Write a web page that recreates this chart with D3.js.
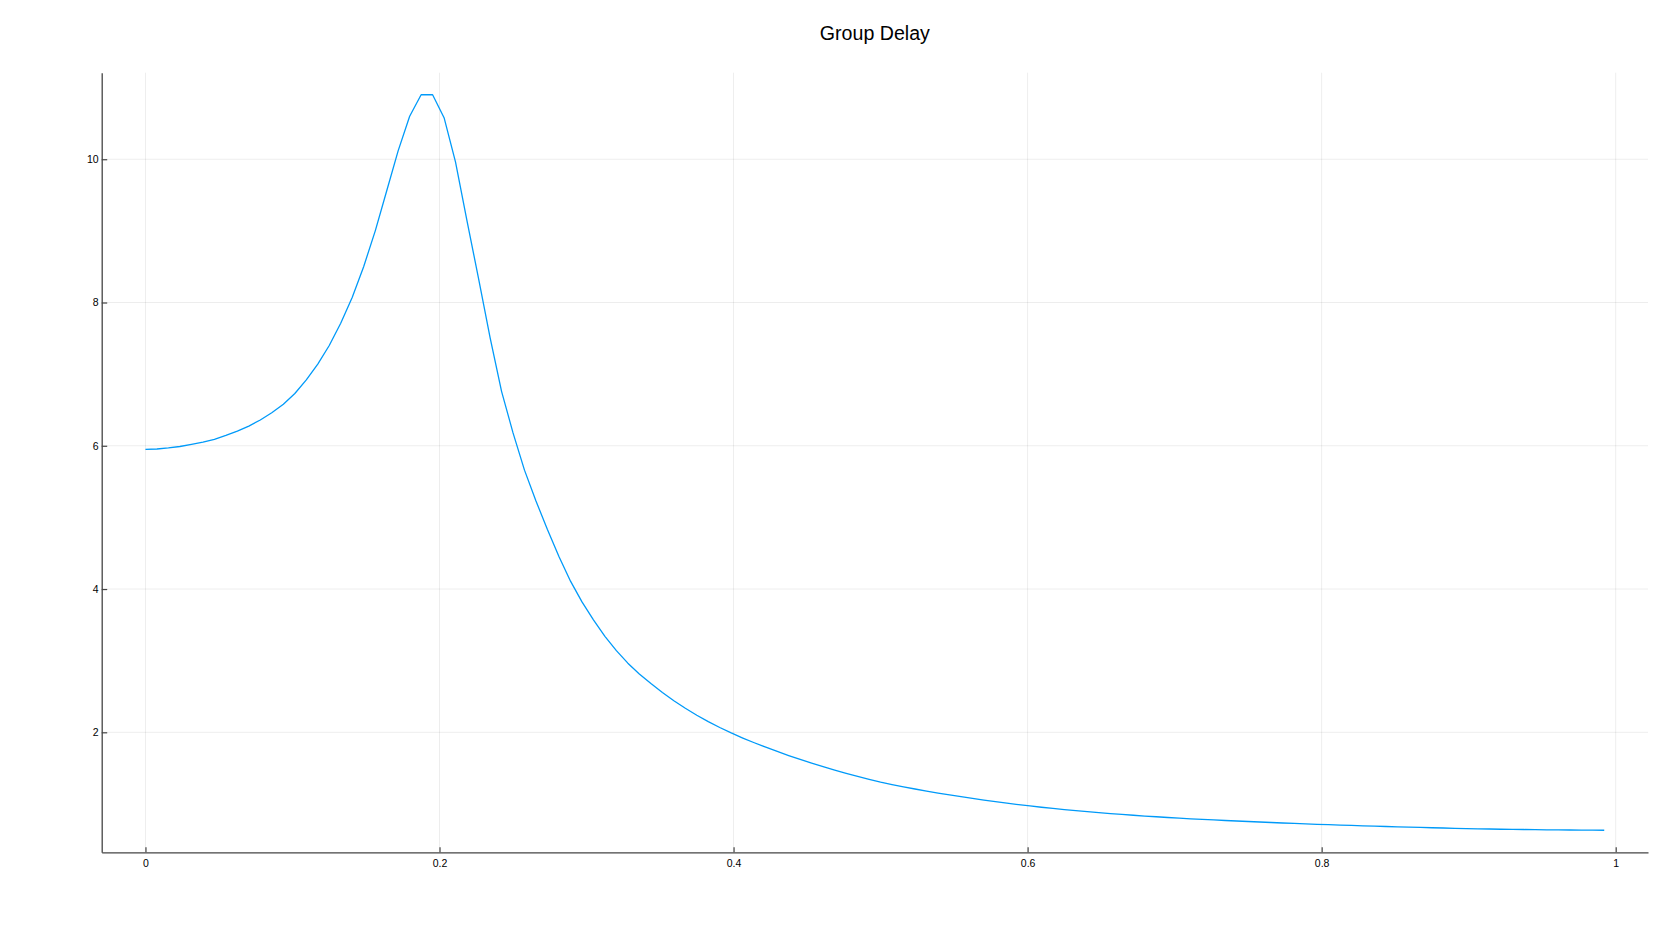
<!DOCTYPE html>
<html>
<head>
<meta charset="utf-8">
<script src="https://cdn.jsdelivr.net/npm/d3@7"></script>
<style>
  body { margin: 0; background: #fff; }
  svg { display: block; font-family: "Liberation Sans", Arial, sans-serif; }
</style>
</head>
<body>
<svg id="chart"></svg>
<script>
const width = 1660;
const height = 941;

// normalized frequency, 128 samples
const freq = [
  0, 0.0078, 0.0156, 0.0234, 0.0313, 0.0391, 0.0469, 0.0547, 0.0625, 0.0703, 0.0781, 0.0859, 0.0938, 0.1016, 0.1094, 0.1172,
  0.125, 0.1328, 0.1406, 0.1484, 0.1563, 0.1641, 0.1719, 0.1797, 0.1875, 0.1953, 0.2031, 0.2109, 0.2188, 0.2266, 0.2344, 0.2422,
  0.25, 0.2578, 0.2656, 0.2734, 0.2813, 0.2891, 0.2969, 0.3047, 0.3125, 0.3203, 0.3281, 0.3359, 0.3438, 0.3516, 0.3594, 0.3672,
  0.375, 0.3828, 0.3906, 0.3984, 0.4063, 0.4141, 0.4219, 0.4297, 0.4375, 0.4453, 0.4531, 0.4609, 0.4688, 0.4766, 0.4844, 0.4922,
  0.5, 0.5078, 0.5156, 0.5234, 0.5313, 0.5391, 0.5469, 0.5547, 0.5625, 0.5703, 0.5781, 0.5859, 0.5938, 0.6016, 0.6094, 0.6172,
  0.625, 0.6328, 0.6406, 0.6484, 0.6563, 0.6641, 0.6719, 0.6797, 0.6875, 0.6953, 0.7031, 0.7109, 0.7188, 0.7266, 0.7344, 0.7422,
  0.75, 0.7578, 0.7656, 0.7734, 0.7813, 0.7891, 0.7969, 0.8047, 0.8125, 0.8203, 0.8281, 0.8359, 0.8438, 0.8516, 0.8594, 0.8672,
  0.875, 0.8828, 0.8906, 0.8984, 0.9063, 0.9141, 0.9219, 0.9297, 0.9375, 0.9453, 0.9531, 0.9609, 0.9688, 0.9766, 0.9844, 0.9922
];

// group delay
const delay = [
  5.95, 5.955, 5.97, 5.99, 6.02, 6.05, 6.09, 6.145, 6.205, 6.275, 6.36, 6.46, 6.58, 6.73, 6.92, 7.14,
  7.40, 7.71, 8.07, 8.50, 9.00, 9.56, 10.12, 10.60, 10.90, 10.90, 10.58, 9.96, 9.13, 8.33, 7.51, 6.76,
  6.18, 5.66, 5.23, 4.83, 4.45, 4.11, 3.82, 3.57, 3.34, 3.14, 2.965, 2.815, 2.68, 2.555, 2.44, 2.335,
  2.238, 2.149, 2.067, 1.991, 1.92, 1.854, 1.792, 1.734, 1.676, 1.621, 1.569, 1.52, 1.473, 1.428, 1.385, 1.344,
  1.305, 1.271, 1.239, 1.2085, 1.1795, 1.152, 1.126, 1.101, 1.077, 1.054, 1.032, 1.011, 0.991, 0.972, 0.954, 0.937,
  0.921, 0.906, 0.892, 0.878, 0.865, 0.853, 0.842, 0.831, 0.821, 0.811, 0.802, 0.793, 0.785, 0.777, 0.769, 0.762,
  0.755, 0.748, 0.741, 0.734, 0.728, 0.722, 0.716, 0.711, 0.705, 0.70, 0.695, 0.69, 0.685, 0.68, 0.676, 0.672,
  0.668, 0.664, 0.66, 0.656, 0.653, 0.65, 0.647, 0.645, 0.643, 0.641, 0.639, 0.637, 0.636, 0.635, 0.634, 0.633
];

const xTicks = [0, 0.2, 0.4, 0.6, 0.8, 1];
const yTicks = [2, 4, 6, 8, 10];
const title = "Group Delay";

const margin = { top: 72.7, right: 12, bottom: 88.7, left: 101.7 };

const svg = d3.select("#chart").attr("width", width).attr("height", height);

// pad the data range by 3% on each side
function padded(ext) {
  const d = (ext[1] - ext[0]) * 0.03;
  return [ext[0] - d, ext[1] + d];
}

const x = d3.scaleLinear()
  .domain(padded(d3.extent(freq)))
  .range([margin.left, width - margin.right]);
const y = d3.scaleLinear()
  .domain(padded(d3.extent(delay)))
  .range([height - margin.bottom, margin.top]);

// grid
const grid = svg.append("g").attr("stroke", "#000").attr("stroke-opacity", 0.07).attr("stroke-width", 1);
grid.selectAll(".vx").data(xTicks).enter().append("line")
  .attr("x1", d => x(d)).attr("x2", d => x(d))
  .attr("y1", margin.top).attr("y2", height - margin.bottom);
grid.selectAll(".hy").data(yTicks).enter().append("line")
  .attr("y1", d => y(d)).attr("y2", d => y(d))
  .attr("x1", margin.left).attr("x2", width - margin.right);

// axes
const fmt = d => d3.format("~g")(d);
const xAxis = svg.append("g")
  .attr("transform", "translate(0," + (height - margin.bottom) + ")")
  .call(d3.axisBottom(x).tickValues(xTicks).tickFormat(fmt).tickSizeInner(-5).tickSizeOuter(0).tickPadding(7.5));
const yAxis = svg.append("g")
  .attr("transform", "translate(" + margin.left + ",0)")
  .call(d3.axisLeft(y).tickValues(yTicks).tickFormat(fmt).tickSizeInner(-5.5).tickSizeOuter(0).tickPadding(3));

[xAxis, yAxis].forEach(a => {
  a.select(".domain").attr("stroke", "#444").attr("stroke-width", 1.3);
  a.selectAll(".tick line").attr("stroke", "#444").attr("stroke-width", 1.2);
  a.selectAll(".tick text").attr("fill", "#000").style("font-size", "10.5px")
    .style("font-family", '"Liberation Sans", Arial, sans-serif');
});

// curve
const line = d3.line()
  .x((d, i) => x(freq[i]))
  .y(d => y(d));
svg.append("path")
  .datum(delay)
  .attr("fill", "none")
  .attr("stroke", "#009af9")
  .attr("stroke-width", 1.3)
  .attr("stroke-linejoin", "round")
  .attr("d", line);

// title
svg.append("text")
  .attr("x", (margin.left + width - margin.right) / 2)
  .attr("y", 40)
  .attr("text-anchor", "middle")
  .style("font-size", "19.6px")
  .attr("fill", "#000")
  .text(title);
</script>
</body>
</html>
